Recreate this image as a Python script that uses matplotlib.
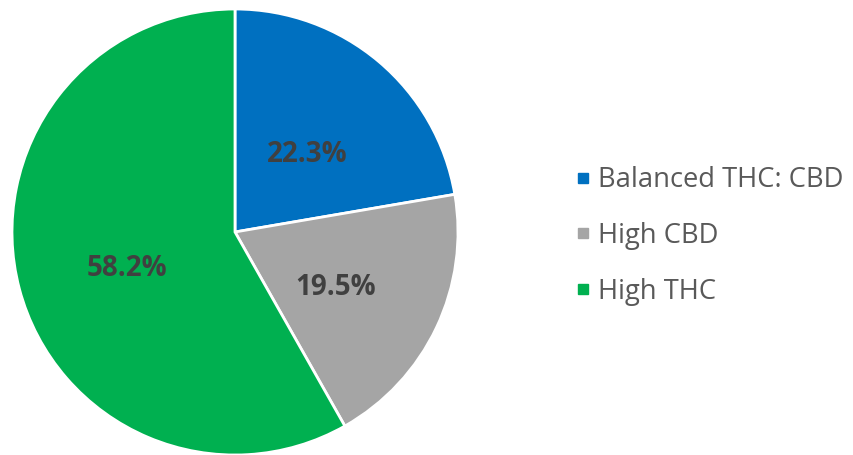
import matplotlib
matplotlib.use("Agg")
import matplotlib.pyplot as plt
from matplotlib.lines import Line2D

labels = ["Balanced THC: CBD", "High CBD", "High THC"]
shares = [22.3, 19.5, 58.2]
colors = ["#0070C0", "#A5A5A5", "#00B050"]

W, H = 854, 455
fig = plt.figure(figsize=(W / 100, H / 100), dpi=100)

# pie centre ~ (235, 232) px, radius ~ 223 px
cx, cy, r = 235, 232, 223
ax = fig.add_axes([(cx - r) / W, (H - cy - r) / H, 2 * r / W, 2 * r / H])
wedges, _, autotexts = ax.pie(
    shares, colors=colors, startangle=90, counterclock=False,
    autopct="%.1f%%", pctdistance=0.5, radius=1.0,
    wedgeprops=dict(edgecolor="white", linewidth=2),
    textprops=dict(fontfamily="Open Sans", fontsize=20, fontweight="bold", color="#404040"),
)
# labels sit a touch lower in the original
for t in autotexts:
    x, y = t.get_position()
    t.set_position((x, y - 0.035))
ax.set_xlim(-1, 1)
ax.set_ylim(-1, 1)
ax.set_aspect("equal")

handles = [Line2D([], [], marker="s", linestyle="none", markersize=7.5,
                  markerfacecolor=c, markeredgecolor=c) for c in colors]
fig.legend(handles, labels, loc="center left", bbox_to_anchor=(550 / W, 1 - 236 / H),
           frameon=False, handlelength=0.6, handletextpad=0.25, labelspacing=1.02,
           prop=dict(family="Open Sans", size=19.7), labelcolor="#595959")

fig.savefig("out.png", dpi=100)
